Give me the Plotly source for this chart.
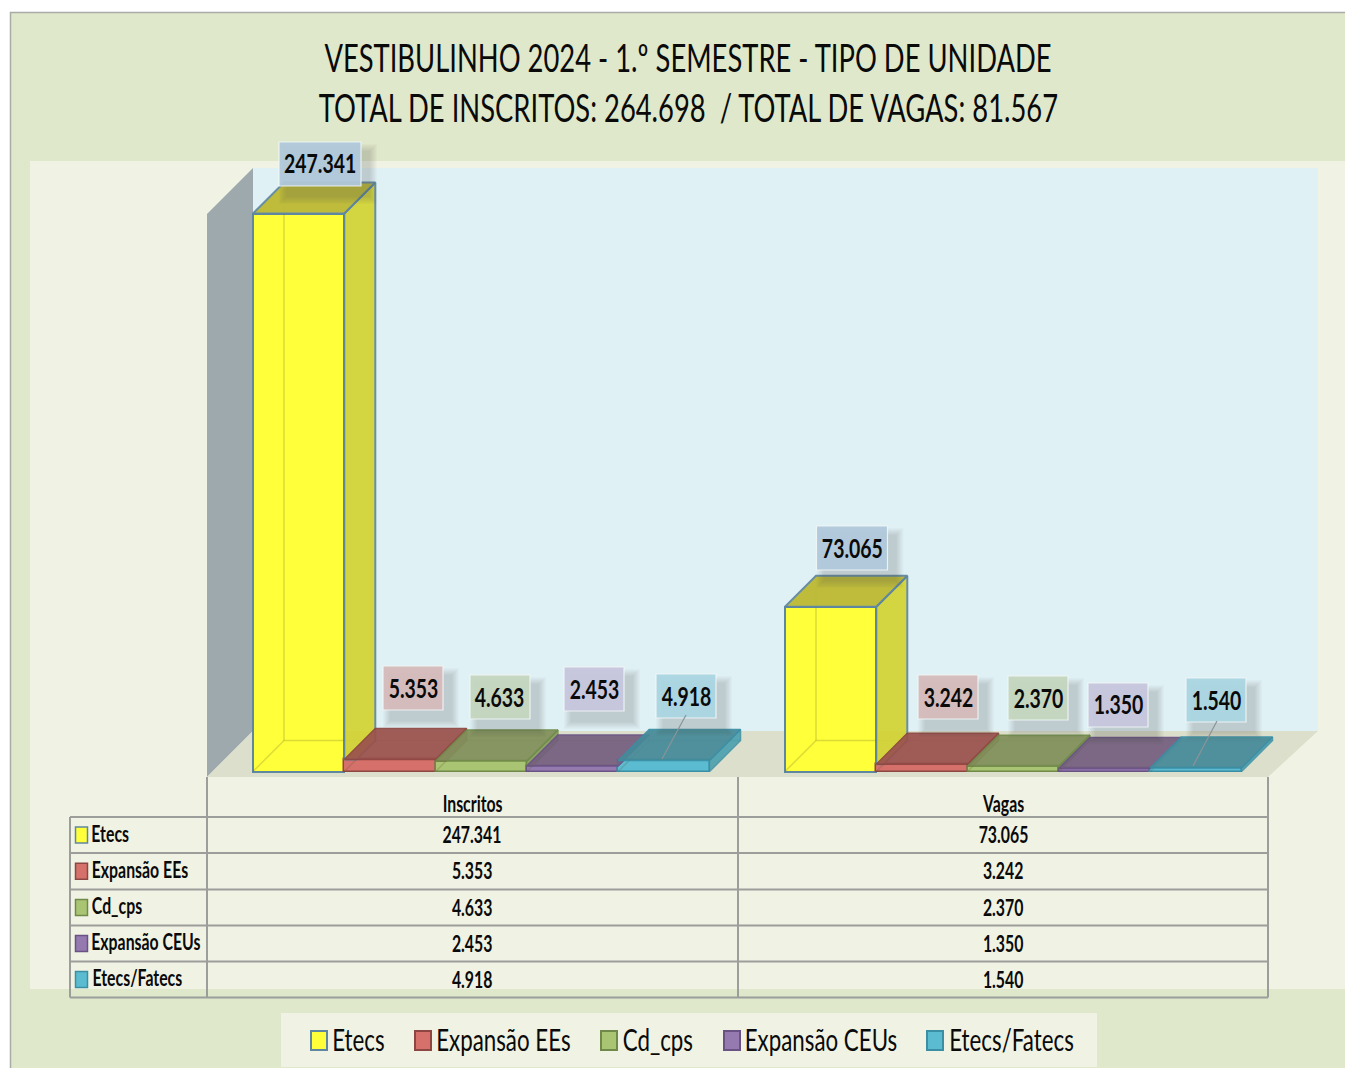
import plotly.graph_objects as go

# ---------- data ----------
categories = ["Inscritos", "Vagas"]
series_names = ["Etecs", "Expansão EEs", "Cd_cps", "Expansão CEUs", "Etecs/Fatecs"]
etecs = [247341, 73065]
expansao_ees = [5353, 3242]
cd_cps = [4633, 2370]
expansao_ceus = [2453, 1350]
etecs_fatecs = [4918, 1540]
title_lines = ["VESTIBULINHO 2024 - 1.º SEMESTRE - TIPO DE UNIDADE",
               "TOTAL DE INSCRITOS: 264.698  / TOTAL DE VAGAS: 81.567"]

all_values = [etecs, expansao_ees, cd_cps, expansao_ceus, etecs_fatecs]

# ---------- style / layout ----------
W, H = 1345, 1068
FONT = "Lato"
Y0_PX = 771.5
K = 558.0 / 247341          # pixels per unit
GROUP_X = [253.0, 785.0]
BAR_W = 91.3
DEPTH = 31.0
FRONT = ["#FFFF3A", "#D5706A", "#A9C473", "#957AB0", "#5BBBD1"]
TOP = ["#BDB92F", "#9B524E", "#80905A", "#75607F", "#468A99"]
SIDE = ["#D3D334", "#A5504C", "#7F9455", "#6F5A80", "#3F9BAD"]
EDGE = ["#5F87A0", "#8E4642", "#6F8A48", "#6A5285", "#3A8FA5"]
LABEL_BG = ["rgba(176,200,218,0.95)", "rgba(214,186,186,0.95)", "rgba(196,214,190,0.95)",
            "rgba(198,198,220,0.95)", "rgba(170,214,226,0.95)"]
LABEL_POS = [[(320, 164), (852, 548)], [(413, 688), (948, 697)], [(500, 697), (1038, 698)],
             [(594, 689), (1118, 705)], [(686, 696), (1216, 700)]]
ROW_LABEL_X = [110, 140, 117, 146.5, 137.5]
LEGEND_SWATCH_X = [311, 415, 601, 724, 927]
LEGEND_TEXT_X = [358.5, 503.5, 657.5, 821, 1011]
CONDENSE = 0.72


def px(x):
    return x / W


def py(y):
    return 1 - y / H


def dy(pixels):
    return pixels / K


def fmt(v):
    return f"{v:,}".replace(",", ".")


fig = go.Figure()
shapes = []
ann = []


def rect(x0, y0, x1, y1, fill, line=None, lw=0, layer="below", opacity=1):
    shapes.append(dict(type="rect", xref="paper", yref="paper", x0=px(x0), x1=px(x1), y0=py(y0), y1=py(y1),
                       fillcolor=fill, line=dict(color=line or fill, width=lw), layer=layer, opacity=opacity))


def poly(points, fill):
    path = "M " + " L ".join(f"{px(a)},{py(b)}" for a, b in points) + " Z"
    shapes.append(dict(type="path", xref="paper", yref="paper", path=path, fillcolor=fill,
                       line=dict(width=0), layer="below"))


def seg(x0, y0, x1, y1, color="#9C9E9C", width=2, layer="above"):
    shapes.append(dict(type="line", xref="paper", yref="paper", x0=px(x0), x1=px(x1), y0=py(y0), y1=py(y1),
                       line=dict(color=color, width=width), layer=layer))


def text(x, y, s, size, bold=False, color="#0A0A0A"):
    ann.append(dict(xref="paper", yref="paper", x=px(x), y=py(y), text=s, showarrow=False, xanchor="center",
                    yanchor="middle", font=dict(family=FONT, size=size, color=color, weight=700 if bold else 400)))


# background
rect(10.5, 12.5, W + 5, H + 5, "#DFE8CA", "#A9ABA7", 1.5)
rect(30, 161, W + 5, 989, "#F0F3E4")
rect(253, 168, 1318, 731, "#E0F1F5")
poly([(207, 214), (253, 168), (253, 731), (207, 777)], "#9DA9AD")
poly([(207, 777), (253, 731), (1318, 731), (1268, 777)], "#DCDFCB")
rect(281, 1013, 1097, 1067, "#F0F3E4")

# front faces
for i, name in enumerate(series_names):
    fig.add_trace(go.Bar(
        x=[g + (i + 0.5) * BAR_W for g in GROUP_X], y=all_values[i], width=BAR_W, name=name,
        marker=dict(color=FRONT[i], line=dict(color=EDGE[i], width=2 if i == 0 else 1.5)), showlegend=False,
        hovertemplate="%{y}<extra>" + name + "</extra>"))

# depth faces, computed from values
for g, gx in enumerate(GROUP_X):
    for i, name in enumerate(series_names):
        v = all_values[i][g]
        nxt = all_values[i + 1][g] if i < 4 else 0
        x0 = gx + i * BAR_W
        x1 = x0 + BAR_W
        d = dy(DEPTH)
        h = nxt * K
        lw = 2 if i == 0 else 1.5
        # translucent inner edges of the box
        fig.add_trace(go.Scatter(
            x=[x0, x0 + DEPTH, x1 + DEPTH, None, x0 + DEPTH, x0 + DEPTH], y=[0, d, d, None, d, d + v],
            mode="lines", line=dict(color="rgba(90,90,40,0.22)", width=1.5), hoverinfo="skip", showlegend=False))
        # side (only the part the next, shorter bar leaves visible)
        if v > nxt:
            fig.add_trace(go.Scatter(
                x=[x1, x1 + h, x1 + DEPTH, x1 + DEPTH, x1, x1], y=[nxt, nxt, d, v + d, v, nxt],
                mode="lines", fill="toself", fillcolor=SIDE[i], opacity=0.93 if i == 0 else 0.85,
                line=dict(color=EDGE[i], width=lw), hoverinfo="skip", showlegend=False))
        # top
        fig.add_trace(go.Scatter(
            x=[x0, x0 + DEPTH, x1 + DEPTH, x1, x0], y=[v, v + d, v + d, v, v], mode="lines", fill="toself",
            fillcolor=TOP[i], opacity=0.93, line=dict(color=EDGE[i], width=lw),
            hoverinfo="skip", showlegend=False))

# value labels with soft shadows
for i in range(5):
    for g in range(2):
        v = all_values[i][g]
        cx, cy = LABEL_POS[i][g]
        hw = 41 if v >= 100000 else (35.5 if v >= 10000 else 30)
        hh = 22
        for k in range(8):
            rect(cx - hw + k, cy - hh + 2 + k, cx + hw + 16 - k, cy + hh + 18 - k,
                 "rgb(70,80,90)", layer="above", opacity=0.028)
        rect(cx - hw, cy - hh, cx + hw, cy + hh, LABEL_BG[i], "rgba(240,246,246,0.9)", 1.2, layer="above")
        text(cx, cy - 1, fmt(v), 27, bold=True)
seg(686, 715, 662, 759, "#8A9498", 1.2)
seg(1217, 721, 1193, 766, "#8A9498", 1.2)

# data table
ROWS = [817, 853, 889.5, 925.5, 961.5, 997.5]
for y in ROWS:
    seg(70, y, 1268, y)
for x in [207, 738, 1268]:
    seg(x, 777, x, 997.5)
seg(70, 817, 70, 997.5)
for c, cat in zip([472, 1003], categories):
    text(c, 803, cat, 22, bold=True)
for i, name in enumerate(series_names):
    cy = (ROWS[i] + ROWS[i + 1]) / 2
    rect(75.5, cy - 8, 87.5, cy + 8, FRONT[i], EDGE[i], 1.5, layer="above")
    text(ROW_LABEL_X[i] - 0.5, cy - 2, name, 22, bold=True)
    for c, g in zip([472, 1003], range(2)):
        text(c, cy - 0.5, fmt(all_values[i][g]), 22, bold=True)

# legend row
for i, name in enumerate(series_names):
    rect(LEGEND_SWATCH_X[i], 1031, LEGEND_SWATCH_X[i] + 16, 1050, FRONT[i], EDGE[i], 2, layer="above")
    text(LEGEND_TEXT_X[i], 1039, name, 31)

# title
for y, t in zip([57, 107], title_lines):
    text(688.5, y, t, 38)

fig.update_layout(
    width=W, height=H, autosize=False, margin=dict(l=0, r=0, t=0, b=0),
    paper_bgcolor="white", plot_bgcolor="rgba(0,0,0,0)", barmode="overlay", bargap=0,
    xaxis=dict(range=[0, W], visible=False, domain=[0, 1], fixedrange=True),
    yaxis=dict(range=[-(H - Y0_PX) / K, Y0_PX / K], visible=False, domain=[0, 1], fixedrange=True),
    shapes=shapes, annotations=ann, showlegend=False,
)

post = """
document.body.style.margin='0';
document.querySelectorAll('.annotation-text').forEach(function(t){
  var w = t.getComputedTextLength();
  t.setAttribute('textLength', w * %s);
  t.setAttribute('lengthAdjust', 'spacingAndGlyphs');
});
""" % CONDENSE

fig.write_html("out.html", config=dict(displayModeBar=False), post_script=post)
